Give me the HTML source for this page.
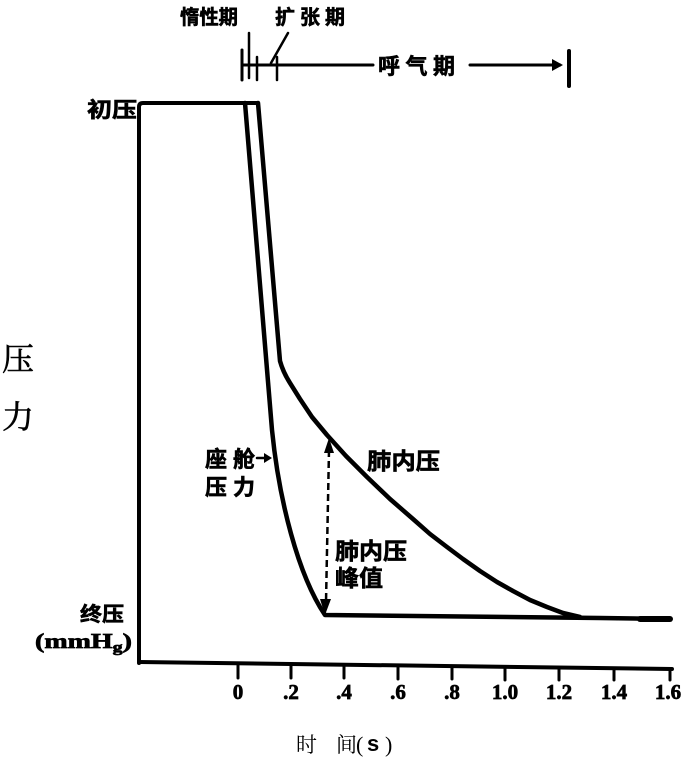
<!DOCTYPE html>
<html>
<head>
<meta charset="utf-8">
<style>
html,body{margin:0;padding:0;background:#fff;}
svg{display:block;}
.cs{font-family:"Liberation Sans","Noto Sans CJK SC",sans-serif;font-weight:bold;fill:#000;stroke:#000;stroke-width:0.6;}
.num{font-family:"Liberation Serif",serif;font-weight:bold;fill:#000;font-size:21px;stroke:#000;stroke-width:0.7;}
.thin{font-family:"Liberation Serif","Noto Serif CJK SC",serif;font-weight:normal;fill:#000;}
</style>
</head>
<body>
<svg width="700" height="759" viewBox="0 0 700 759" xmlns="http://www.w3.org/2000/svg">
<rect width="700" height="759" fill="#fff"/>

<!-- top annotations -->
<text class="cs" x="180" y="24" font-size="20" textLength="58" lengthAdjust="spacingAndGlyphs">惰性期</text>
<text class="cs" x="275" y="24" font-size="20" textLength="70" lengthAdjust="spacing">扩张期</text>
<g stroke="#000" fill="none" stroke-linecap="round">
  <line x1="242" y1="50" x2="242" y2="80" stroke-width="3"/>
  <line x1="249" y1="33" x2="249" y2="78" stroke-width="2.5"/>
  <line x1="257" y1="57" x2="257" y2="80" stroke-width="2.5"/>
  <line x1="277" y1="57" x2="277" y2="80" stroke-width="2.5"/>
  <line x1="288" y1="33" x2="271" y2="63" stroke-width="2.5"/>
  <line x1="242" y1="65" x2="373" y2="65" stroke-width="3"/>
  <line x1="470" y1="65" x2="560" y2="65" stroke-width="3"/>
  <line x1="569" y1="51" x2="569" y2="86" stroke-width="4"/>
</g>
<polygon points="563,65 552,59 552,71" fill="#000"/>
<text class="cs" x="378" y="74" font-size="22" textLength="77" lengthAdjust="spacing">呼气期</text>

<!-- left labels -->
<text class="cs" x="87" y="117" font-size="21" textLength="50" lengthAdjust="spacingAndGlyphs">初压</text>
<text class="thin" x="2" y="370" font-size="32" stroke="#000" stroke-width="0.6">压</text>
<text class="thin" x="2" y="428" font-size="32" stroke="#000" stroke-width="0.6">力</text>
<text class="cs" x="80" y="621" font-size="20" textLength="44" lengthAdjust="spacingAndGlyphs">终压</text>
<text class="num" x="35" y="648" font-size="18" textLength="97" lengthAdjust="spacingAndGlyphs">(mmH<tspan font-size="15" dy="4">g</tspan><tspan dy="-4">)</tspan></text>

<!-- frame -->
<g stroke="#000" fill="none" stroke-linejoin="round" stroke-linecap="round">
  <path d="M139,663 L139,107 Q139,103 143,103 L258,103" stroke-width="4"/>
  <path d="M139,662 L672,669" stroke-width="4"/>
  <g stroke-width="3">
    <line x1="238" y1="665" x2="238" y2="678"/>
    <line x1="291" y1="666" x2="291" y2="678"/>
    <line x1="344" y1="666" x2="344" y2="678"/>
    <line x1="398" y1="667" x2="398" y2="679"/>
    <line x1="452" y1="667" x2="452" y2="679"/>
    <line x1="505" y1="668" x2="505" y2="680"/>
    <line x1="559" y1="668" x2="559" y2="680"/>
    <line x1="614" y1="669" x2="614" y2="680"/>
    <line x1="670" y1="669" x2="670" y2="680"/>
  </g>

  <!-- cabin pressure curve -->
  <path d="M245,103 L272,430 C279,500 298,575 325,615 L600,618 L670,619" stroke-width="4.5"/>
  <line x1="640" y1="619" x2="670" y2="619" stroke-width="6"/>

  <!-- lung pressure curve -->
  <path d="M258,103 L280,361 Q283,372 290,383 L300,399 L312,417 L327,435 L346,456 L367,477 L390,499 L413,519 L430,534 L447,547 L463,559 L480,571 L497,582 L513,591 L530,600 L547,607 L563,613 L580,617" stroke-width="4.5"/>

  <line x1="329" y1="450" x2="326" y2="602" stroke-width="2.5" stroke-dasharray="7,4" stroke-linecap="butt"/>
  <line x1="257" y1="458" x2="266" y2="458" stroke-width="2.5"/>
</g>
<polygon points="329,438 324,453 334,453" fill="#000"/>
<polygon points="325,615 320,599 331,599" fill="#000"/>
<polygon points="272,458 264,453 264,463" fill="#000"/>

<!-- inner labels -->
<text class="cs" x="205" y="467" font-size="22" textLength="50" lengthAdjust="spacing">座舱</text>
<text class="cs" x="205" y="495" font-size="22" textLength="50" lengthAdjust="spacing">压力</text>
<text class="cs" x="367" y="469" font-size="23" textLength="73" lengthAdjust="spacingAndGlyphs">肺内压</text>
<text class="cs" x="335" y="559" font-size="23" textLength="72" lengthAdjust="spacingAndGlyphs">肺内压</text>
<text class="cs" x="335" y="586" font-size="23" textLength="48" lengthAdjust="spacingAndGlyphs">峰值</text>

<!-- tick labels -->
<g class="num" text-anchor="middle">
  <text x="238" y="699">0</text>
  <text x="291" y="699">.2</text>
  <text x="344" y="699">.4</text>
  <text x="398" y="699">.6</text>
  <text x="452" y="699">.8</text>
  <text x="505" y="699">1.0</text>
  <text x="559" y="699">1.2</text>
  <text x="614" y="699">1.4</text>
  <text x="668" y="699">1.6</text>
</g>

<!-- x axis title -->
<text class="thin" x="296" y="752" font-size="21">时</text>
<text class="thin" x="336" y="752" font-size="21">间</text>
<text class="thin" x="356" y="752" font-size="22">(</text>
<text x="367" y="751" font-size="22" font-family="Liberation Sans, sans-serif" font-weight="bold" fill="#000">s</text>
<text class="thin" x="385" y="752" font-size="22">)</text>
</svg>
</body>
</html>
